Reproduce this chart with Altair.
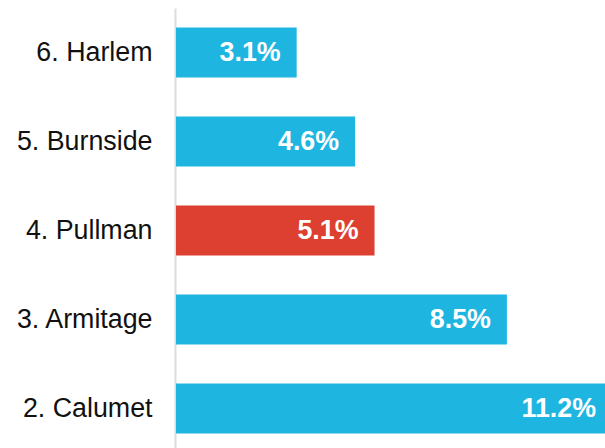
import altair as alt
import pandas as pd

categories = ["6. Harlem", "5. Burnside", "4. Pullman", "3. Armitage", "2. Calumet"]
values = [3.1, 4.6, 5.1, 8.5, 11.2]
labels = ["3.1%", "4.6%", "5.1%", "8.5%", "11.2%"]
highlight = ["no", "no", "yes", "no", "no"]

df = pd.DataFrame({"cat": categories, "value": values, "label": labels, "hl": highlight})

y = alt.Y(
    "cat:N",
    sort=categories,
    scale=alt.Scale(paddingInner=0.438, paddingOuter=0.219, range=[0, 445]),
    axis=alt.Axis(
        title=None, ticks=False, tickSize=0, domainColor="#dcdcdc", domainWidth=2,
        offset=1, labelFont="Liberation Sans", labelFontSize=26.8, labelColor="#111111",
        labelPadding=23, grid=False,
    ),
)
x = alt.X("value:Q", scale=alt.Scale(domain=[0, 11.2], nice=False, zero=True, range=[0, 436]), axis=None)

bars = alt.Chart(df).mark_bar().encode(
    x=x,
    y=y,
    color=alt.Color("hl:N", scale=alt.Scale(domain=["no", "yes"], range=["#1fb5e1", "#dd4030"]), legend=None),
)
text = alt.Chart(df).mark_text(
    align="right", baseline="middle", dx=-16, font="Liberation Sans",
    fontSize=26.8, fontWeight="bold", color="white",
).encode(x=x, y=alt.Y("cat:N", sort=categories), text="label:N")

chart = (bars + text).properties(
    width=429, height=440,
    autosize=alt.AutoSizeParams(type="none"),
    padding={"left": 176, "top": 8, "right": 0, "bottom": 0},
).configure_view(stroke=None)

chart.save("out.html", embed_options={"renderer": "svg", "actions": False})
